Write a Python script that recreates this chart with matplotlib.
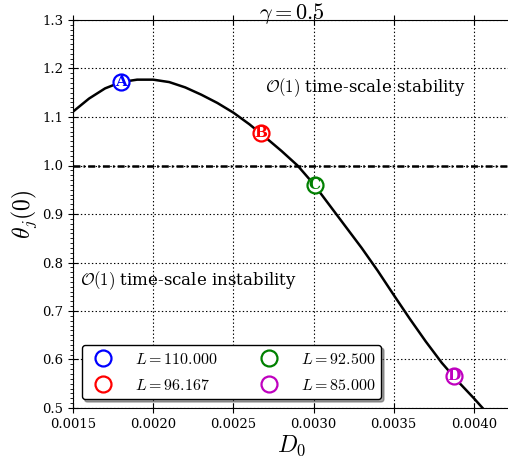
import numpy as np
import matplotlib
matplotlib.use("Agg")
import matplotlib.pyplot as plt
from matplotlib.ticker import MultipleLocator, FormatStrFormatter

plt.rcParams["font.family"] = ["DejaVu Serif"]
plt.rcParams["mathtext.fontset"] = "cm"
plt.rcParams["lines.scale_dashes"] = False

# curve theta_j(0) vs D0
D0 = [0.0015, 0.0016, 0.0017, 0.0018, 0.0019, 0.0020, 0.0021, 0.0022,
      0.0023, 0.0024, 0.0025, 0.0026, 0.0027, 0.0028, 0.0029, 0.0030,
      0.0031, 0.0032, 0.0033, 0.0034, 0.0035, 0.0036, 0.0037, 0.0038,
      0.0039, 0.0040, 0.0041]
THETA = [1.111, 1.138, 1.159, 1.172, 1.177, 1.177, 1.172, 1.161,
         1.146, 1.129, 1.109, 1.085, 1.058, 1.030, 1.000, 0.962,
         0.918, 0.874, 0.830, 0.783, 0.733, 0.684, 0.637, 0.593,
         0.555, 0.520, 0.483]

# marked points
PT_LABELS = ["A", "B", "C", "D"]
PT_D0 = [0.00180, 0.00267, 0.003006, 0.003873]
PT_THETA = [1.172, 1.066, 0.960, 0.567]
PT_L = [110.0, 96.167, 92.5, 85.0]
PT_COLORS = ["b", "r", "g", "m"]

fig = plt.figure(figsize=(5.08, 4.62), dpi=100)
ax = fig.add_axes([73 / 508, 54 / 462, 437 / 508, 388 / 462])

ax.plot(D0, THETA, color="k", lw=1.8, zorder=3)
ax.axhline(1.0, color="k", lw=1.8, ls=(0, (5, 2.2, 1.2, 2.2)), zorder=2)

for lab, x, y, L, c in zip(PT_LABELS, PT_D0, PT_THETA, PT_L, PT_COLORS):
    ax.plot([x], [y], "o", ms=11.5, mfc="white", mec=c, mew=1.6,
            label=r"$L=%.3f$" % L, zorder=4)
    ax.text(x, y, lab, color=c, fontsize=11, fontweight="bold",
            ha="center", va="center", zorder=5)

ax.text(0.00270, 1.16, r"$\mathcal{O}(1)$ time-scale stability",
        fontsize=12, va="center")
ax.text(0.001544, 0.762, r"$\mathcal{O}(1)$ time-scale instability",
        fontsize=12, va="center")

ax.set_xlim(0.0015, 0.004225)
ax.set_ylim(0.5, 1.3)
ax.xaxis.set_major_locator(MultipleLocator(0.0005))
ax.xaxis.set_major_formatter(FormatStrFormatter("%.4f"))
ax.yaxis.set_major_locator(MultipleLocator(0.1))
ax.yaxis.set_minor_locator(MultipleLocator(0.01))
ax.yaxis.set_major_formatter(FormatStrFormatter("%.1f"))
ax.tick_params(which="major", direction="inout", length=7, labelsize=9.5,
               top=True, right=False)
ax.tick_params(which="minor", direction="out", length=2.5, right=False)
ax.spines["right"].set_visible(False)
ax.grid(True, ls=":", color="k", lw=0.8)

ax.set_xlabel(r"$D_0$", fontsize=17, labelpad=2)
ax.set_ylabel(r"$\theta_j(0)$", fontsize=17, labelpad=2)
ax.set_title(r"$\gamma=0.5$", fontsize=16, pad=1)

ax.legend(loc="lower left", ncol=2, numpoints=1, fontsize=11.5,
          fancybox=True, shadow=True, framealpha=1, columnspacing=2.2,
          handletextpad=1.0, borderaxespad=0.55, labelspacing=0.55,
          borderpad=0.35, edgecolor="k")

fig.savefig("out.png", dpi=100)
